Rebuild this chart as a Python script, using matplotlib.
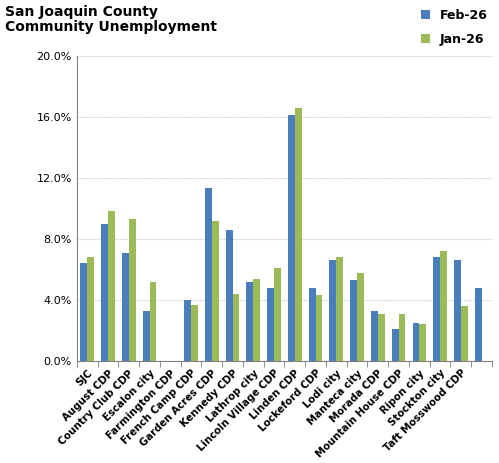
import matplotlib
matplotlib.use("Agg")
import matplotlib.pyplot as plt
import numpy as np
from matplotlib.ticker import FuncFormatter, MultipleLocator

categories = ["SJC", "August CDP", "Country Club CDP", "Escalon city", "Farmington CDP",
              "French Camp CDP", "Garden Acres CDP", "Kennedy CDP", "Lathrop city",
              "Lincoln Village CDP", "Linden CDP", "Lockeford CDP", "Lodi city",
              "Manteca city", "Morada CDP", "Mountain House CDP", "Ripon city",
              "Stockton city", "Taft Mosswood CDP", ""]
feb26 = [6.4, 9.0, 7.1, 3.3, 0, 4.0, 11.3, 8.6, 5.2, 4.8, 16.1, 4.8, 6.6, 5.3, 3.3, 2.1, 2.5, 6.8, 6.6, 4.8]
jan26 = [6.8, 9.8, 9.3, 5.2, 0, 3.7, 9.2, 4.4, 5.4, 6.1, 16.6, 4.3, 6.8, 5.8, 3.1, 3.1, 2.4, 7.2, 3.6, 0]

fig = plt.figure(figsize=(4.99, 4.63), dpi=100)
ax = fig.add_axes([0.154, 0.22, 0.832, 0.66])
x = np.arange(len(categories))
w = 0.33
ax.bar(x - w/2, feb26, w, color="#4a7ebb", label="Feb-26")
ax.bar(x + w/2, jan26, w, color="#9bbb59", label="Jan-26")
ax.set_xlim(-0.5, len(categories) - 0.5)
ax.set_ylim(0, 20)
ax.yaxis.set_major_locator(MultipleLocator(4))
ax.yaxis.set_major_formatter(FuncFormatter(lambda v, p: f"{v:.1f}%"))
ax.grid(axis="y", color="#c8c8c8", linestyle=(0, (1, 1)), linewidth=0.8)
ax.set_axisbelow(True)
for s in ["top", "right"]:
    ax.spines[s].set_visible(False)
ax.spines["left"].set_color("#808080")
ax.spines["bottom"].set_color("#808080")
ax.set_xticks(x)
ax.set_xticklabels(categories, rotation=45, ha="right", rotation_mode="anchor",
                   fontsize=7.3, fontweight="bold")
ax.set_xticks(np.arange(-0.5, len(categories)), minor=True)
ax.tick_params(axis="x", which="major", length=0, pad=5)
ax.tick_params(axis="x", which="minor", length=4, color="#808080")
ax.tick_params(axis="y", labelsize=8, length=0)
fig.text(0.01, 0.99, "San Joaquin County\nCommunity Unemployment", ha="left", va="top",
         fontsize=10, fontweight="bold", linespacing=1.1)
fig.legend(loc="upper right", bbox_to_anchor=(1.0, 1.005), frameon=False,
           prop={"weight": "bold", "size": 9}, handlelength=0.7, labelspacing=0.9)
fig.savefig("out.png", dpi=100)
